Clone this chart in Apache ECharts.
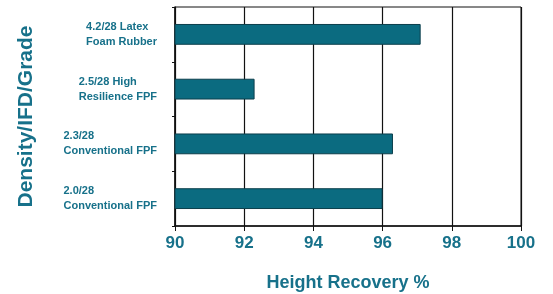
<!DOCTYPE html>
<html>
	<head>
		<meta charset="UTF-8">
		<script src="https://cdn.jsdelivr.net/npm/echarts@6/dist/echarts.min.js"></script>
		<style>
			html, body { margin: 0; padding: 0; background: #fff; }
			#chart { width: 553px; height: 294px; }
		</style>
	</head>
	<body>
		<div id="chart"></div>
		<script type="text/javascript">
			// categories, top to bottom
			var grades = ['4.2/28 Latex\nFoam Rubber', '2.5/28 High\nResilience FPF', '2.3/28\nConventional FPF', '2.0/28\nConventional FPF'];
			var recovery = [97.1, 92.3, 96.3, 96.0];
			var xTicks = [90, 92, 94, 96, 98, 100];

			var teal = '#17718a';
			var chart = echarts.init(document.getElementById('chart'));

			chart.setOption({
				animation: false,
				grid: {
					left: 175, right: 32, top: 7, bottom: 68,
					outerBoundsMode: 'none',
					containLabel: false,
					show: true, borderColor: '#111', borderWidth: 1
				},
				xAxis: {
					type: 'value',
					min: xTicks[0],
					max: xTicks[xTicks.length - 1],
					interval: 2,
					name: 'Height Recovery %',
					nameLocation: 'middle',
					nameGap: 48,
					nameTextStyle: { color: teal, fontSize: 18, fontWeight: 'bold', fontFamily: 'Liberation Sans' },
					axisLine: { show: true, lineStyle: { color: '#111', width: 1.5 } },
					axisTick: { show: true, length: 5, lineStyle: { color: '#111' } },
					axisLabel: { color: teal, fontSize: 17, fontWeight: 'bold', fontFamily: 'Liberation Sans', margin: 9 },
					splitLine: { show: true, lineStyle: { color: '#111', width: 1.2 } }
				},
				yAxis: {
					type: 'category',
					data: grades,
					inverse: true,
					name: 'Density/IFD/Grade',
					nameLocation: 'middle',
					nameGap: 138,
					nameTextStyle: { color: teal, fontSize: 21, fontWeight: 'bold', fontFamily: 'Liberation Sans' },
					axisLine: { show: true, lineStyle: { color: '#111', width: 1.5 } },
					axisTick: { show: true, length: 3, lineStyle: { color: '#111' } },
					axisLabel: {
						margin: 18,
						align: 'right',
						formatter: function(v) {
							return v.split('\n').map(function(s) { return '{t|' + s + '}'; }).join('\n');
						},
						rich: {
							t: { align: 'left', color: teal, fontSize: 11, fontWeight: 'bold', fontFamily: 'Liberation Sans', lineHeight: 15 }
						}
					},
					splitLine: { show: false }
				},
				series: [{
					type: 'bar',
					data: recovery,
					barWidth: '38%',
					itemStyle: { color: '#0b6b80', borderColor: '#0c3f4c', borderWidth: 1 }
				}]
			});
		</script>
	</body>
</html>
